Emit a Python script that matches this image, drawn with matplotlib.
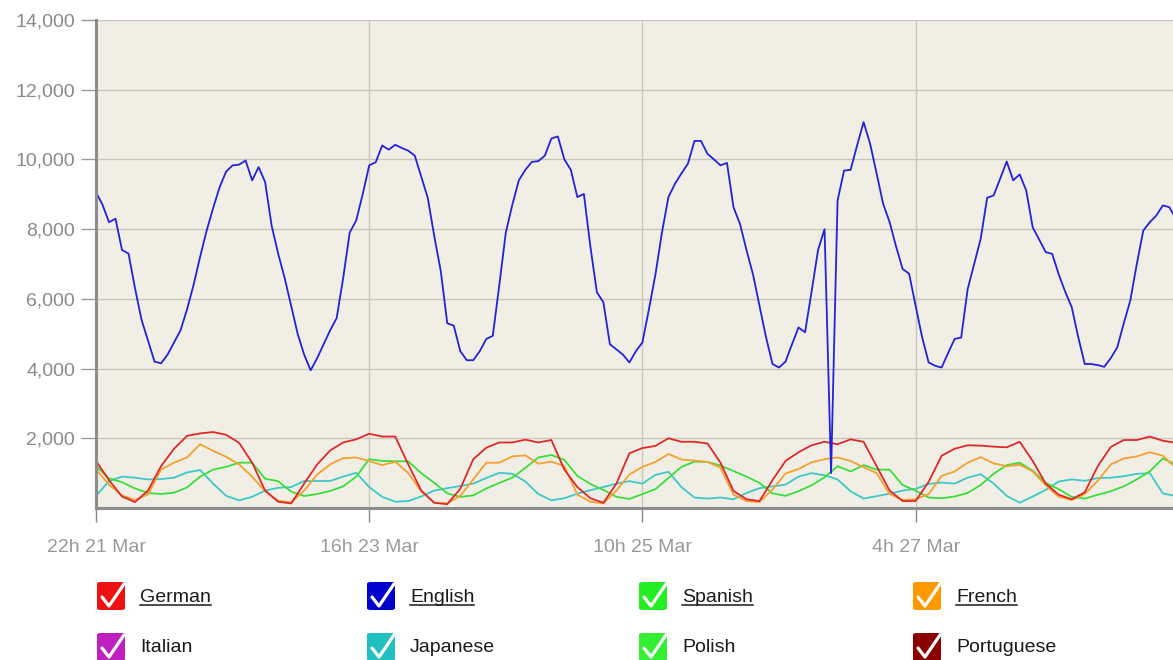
import numpy as np
import matplotlib
matplotlib.use('Agg')
import matplotlib.pyplot as plt
from matplotlib.patches import FancyBboxPatch
from matplotlib.lines import Line2D

plt.rcParams['font.family'] = ['Liberation Sans', 'DejaVu Sans']

# hourly values, starting 22h 21 Mar
english = [9060, 8700, 8200, 8300, 7400, 7300, 6300, 5400, 4800, 4200,
           4150, 4400, 4750, 5100, 5700, 6400, 7200, 7950, 8600, 9200,
           9650, 9830, 9850, 9970, 9400, 9780, 9350, 8100, 7300, 6600,
           5800, 5000, 4400, 3950, 4300, 4700, 5100, 5450, 6600, 7900,
           8250, 9000, 9830, 9920, 10400, 10280, 10420, 10330, 10250, 10110,
           9500, 8900, 7800, 6800, 5300, 5230, 4500, 4240, 4240, 4500,
           4850, 4940, 6400, 7900, 8700, 9400, 9700, 9930, 9950, 10110,
           10600, 10660, 10000, 9700, 8920, 9010, 7500, 6190, 5900, 4700,
           4550, 4400, 4175, 4500, 4750, 5700, 6700, 7900, 8920, 9300,
           9600, 9880, 10530, 10530, 10160, 10000, 9830, 9900, 8630, 8150,
           7400, 6700, 5800, 4900, 4130, 4030, 4200, 4700, 5180, 5040,
           6200, 7400, 8000, 1000, 8820, 9680, 9700, 10400, 11070, 10450,
           9600, 8730, 8200, 7500, 6860, 6720, 5800, 4900, 4175, 4080,
           4030, 4450, 4850, 4890, 6280, 7000, 7720, 8900, 8970, 9450,
           9940, 9400, 9570, 9110, 8050, 7700, 7340, 7290, 6700, 6200,
           5760, 4900, 4130, 4130, 4100, 4050, 4300, 4610, 5300, 5950,
           7000, 7960, 8200, 8390, 8680, 8630, 8300]

# two-hourly values, starting 22h 21 Mar
german = [1350, 800, 330, 170, 500, 1200, 1700, 2070, 2140, 2180,
          2100, 1870, 1300, 500, 180, 130, 700, 1250, 1650, 1880,
          1970, 2130, 2050, 2050, 1250, 500, 150, 110, 550, 1400,
          1730, 1880, 1880, 1960, 1880, 1950, 1100, 600, 280, 150,
          700, 1570, 1720, 1780, 2000, 1900, 1900, 1850, 1300, 490,
          250, 200, 800, 1350, 1600, 1800, 1900, 1830, 1970, 1900,
          1200, 500, 200, 200, 750, 1500, 1700, 1800, 1790, 1760,
          1740, 1900, 1350, 700, 380, 250, 450, 1200, 1750, 1950,
          1950, 2050, 1930, 1870]
french = [1110, 670, 360, 230, 390, 1100, 1300, 1450, 1830, 1640,
          1470, 1250, 900, 480, 210, 160, 500, 960, 1250, 1430,
          1450, 1350, 1230, 1330, 1000, 480, 150, 130, 350, 820,
          1300, 1300, 1480, 1510, 1270, 1330, 1200, 380, 180, 130,
          500, 960, 1180, 1320, 1550, 1390, 1360, 1320, 1160, 380,
          200, 170, 530, 990, 1120, 1310, 1400, 1450, 1350, 1170,
          1000, 400, 230, 250, 400, 920, 1050, 1300, 1460, 1280,
          1200, 1240, 1050, 650, 320, 230, 400, 780, 1250, 1420,
          1480, 1600, 1500, 1150]
spanish = [1200, 850, 740, 560, 430, 400, 440, 590, 900, 1100,
           1180, 1300, 1300, 840, 770, 470, 345, 400, 490, 620,
           900, 1400, 1350, 1340, 1340, 1000, 720, 420, 320, 360,
           560, 720, 870, 1150, 1450, 1520, 1380, 920, 690, 520,
           320, 260, 400, 540, 860, 1180, 1330, 1320, 1220, 1060,
           900, 720, 420, 350, 480, 650, 880, 1200, 1050, 1230,
           1100, 1100, 660, 500, 300, 280, 330, 430, 660, 980,
           1230, 1300, 1070, 720, 540, 320, 270, 380, 480, 620,
           820, 1050, 1420, 1250]
japanese = [345, 775, 900, 870, 820, 830, 870, 1020, 1090, 700,
            350, 220, 320, 500, 580, 600, 775, 775, 775, 900,
            1010, 600, 320, 180, 200, 330, 500, 570, 630, 700,
            860, 1010, 980, 760, 400, 220, 280, 410, 510, 600,
            700, 770, 700, 950, 1040, 600, 300, 270, 300, 250,
            430, 570, 620, 670, 900, 1000, 940, 820, 480, 270,
            340, 410, 500, 550, 690, 730, 700, 870, 970, 700,
            350, 150, 330, 520, 760, 820, 780, 860, 870, 910,
            980, 1000, 420, 340]

tick_hours = [0, 42, 84, 126]
tick_labels = ['22h 21 Mar', '16h 23 Mar', '10h 25 Mar', '4h 27 Mar']

legend_names = ['German', 'English', 'Spanish', 'French',
                'Italian', 'Japanese', 'Polish', 'Portuguese']
legend_colors = ['#ee1111', '#0000cc', '#22ee22', '#ff9900',
                 '#c020c0', '#20c0c0', '#33ee33', '#8b0000']

W, H = 1173, 660
fig = plt.figure(figsize=(W / 100, H / 100), dpi=100)
ax = fig.add_axes([96 / W, (H - 508) / H, (W - 96) / W, (508 - 20) / H])
ax.set_facecolor('#f1efe5')

h1 = np.arange(len(english))
h2 = np.arange(len(german)) * 2
ax.plot(h2, japanese, color='#3cc8c8', lw=1.3)
ax.plot(h2, spanish, color='#3ade3a', lw=1.3)
ax.plot(h2, french, color='#f5a030', lw=1.3)
ax.plot(h2, german, color='#e02828', lw=1.3)
ax.plot(h1, english, color='#2222dd', lw=1.3)

ax.set_xlim(0, (W - 95.5) / 6.508)
ax.set_ylim(0, 14000)
ax.set_yticks(range(2000, 14001, 2000))
ax.set_yticklabels([f'{v:,}' for v in range(2000, 14001, 2000)])
ax.set_xticks(tick_hours)
ax.set_xticklabels(tick_labels)
ax.grid(True, color='#c9c7bb', lw=1)
ax.set_axisbelow(True)
ax.tick_params(axis='y', length=11, width=1, color='#999999', pad=4,
               labelsize=14, labelcolor='#8a8a8a')
ax.tick_params(axis='x', length=10, width=1, color='#888888', pad=12,
               labelsize=14, labelcolor='#999999')
for s in ['top', 'right']:
    ax.spines[s].set_visible(False)
for s in ['left', 'bottom']:
    ax.spines[s].set_color('#8c8c8c')
    ax.spines[s].set_linewidth(2.2)

# legend with checkboxes
col_x = [111, 381, 653, 927]
row_y = [596, 647]


def px(x, y):
    return x / W, (H - y) / H


label_texts = []
for i, (name, c) in enumerate(zip(legend_names, legend_colors)):
    cx, cy = col_x[i % 4], row_y[i // 4]
    x0, y0 = px(cx - 14, cy + 14)
    box = FancyBboxPatch((x0, y0), 28 / W, 28 / H,
                         boxstyle='round,pad=0,rounding_size=0.003',
                         transform=fig.transFigure, facecolor=c,
                         edgecolor='none')
    fig.add_artist(box)
    xs = [cx - 9, cx - 2, cx + 13]
    ys = [cy + 1, cy + 10, cy - 12]
    fx = [x / W for x in xs]
    fy = [(H - y) / H for y in ys]
    fig.add_artist(Line2D(fx, fy, transform=fig.transFigure,
                          color='white', lw=2.3, solid_capstyle='round',
                          solid_joinstyle='round'))
    tx, ty = px(cx + 29, cy + 1)
    t = fig.text(tx, ty, name, fontsize=14, color='#1a1a1a',
                 va='center', ha='left')
    label_texts.append((i, t))

# underline first row (links)
fig.canvas.draw()
r = fig.canvas.get_renderer()
for i, t in label_texts:
    if i < 4:
        bb = t.get_window_extent(r)
        yline = (H - (row_y[0] + 9)) / H
        fig.add_artist(Line2D([bb.x0 / W, bb.x1 / W], [yline, yline],
                              transform=fig.transFigure,
                              color='#1a1a1a', lw=1.1))

fig.savefig('out.png', dpi=100)
